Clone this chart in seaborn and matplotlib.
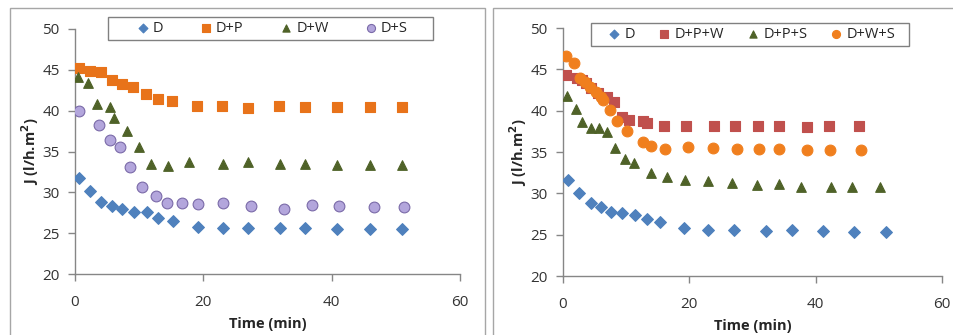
import matplotlib
matplotlib.use("Agg")
import matplotlib.pyplot as plt
from matplotlib.patches import Rectangle
import seaborn as sns
import pandas as pd

sns.set_theme(style="white")
plt.rcParams['font.family'] = ['Open Sans', 'DejaVu Sans']

# ---------------- Left panel data ----------------
L_D_t = [0.7, 2.4, 4.0, 5.8, 7.4, 9.2, 11.2, 13.0, 15.2, 19.1, 23.0, 26.9, 31.9, 35.9, 40.9, 46.0, 50.9]
L_D_j = [31.7, 30.2, 28.8, 28.3, 27.9, 27.6, 27.6, 26.9, 26.5, 25.8, 25.6, 25.6, 25.6, 25.6, 25.5, 25.5, 25.5]

L_DP_t = [0.6, 2.3, 4.0, 5.8, 7.3, 9.1, 11.1, 13.0, 15.1, 19.0, 22.9, 26.9, 31.8, 35.8, 40.9, 45.9, 51.0]
L_DP_j = [45.2, 44.9, 44.7, 43.7, 43.3, 42.9, 42.0, 41.4, 41.2, 40.6, 40.6, 40.3, 40.6, 40.5, 40.5, 40.5, 40.4]

L_DW_t = [0.5, 2.0, 3.4, 5.4, 6.1, 8.1, 10.0, 11.8, 14.5, 17.8, 23.0, 27.0, 31.9, 35.9, 40.9, 45.9, 51.0]
L_DW_j = [44.1, 43.4, 40.8, 40.5, 39.1, 37.5, 35.5, 33.5, 33.2, 33.7, 33.5, 33.7, 33.5, 33.5, 33.3, 33.3, 33.3]

L_DS_t = [0.6, 3.8, 5.5, 7.0, 8.6, 10.5, 12.6, 14.4, 16.7, 19.1, 23.0, 27.5, 32.6, 37.0, 41.2, 46.6, 51.2]
L_DS_j = [40.0, 38.2, 36.4, 35.5, 33.1, 30.7, 29.6, 28.7, 28.7, 28.6, 28.7, 28.3, 28.0, 28.4, 28.3, 28.2, 28.2]

# ---------------- Right panel data ----------------
R_D_t = [0.8, 2.5, 4.4, 6.0, 7.6, 9.4, 11.4, 13.3, 15.3, 19.2, 23.0, 27.1, 32.1, 36.2, 41.1, 46.1, 51.1]
R_D_j = [31.6, 30.1, 28.8, 28.3, 27.8, 27.6, 27.4, 26.9, 26.5, 25.8, 25.6, 25.6, 25.5, 25.6, 25.5, 25.3, 25.3]

R_DPW_t = [0.5, 2.2, 3.0, 3.7, 4.5, 5.6, 6.9, 8.1, 9.3, 10.5, 12.7, 13.3, 16.0, 19.5, 23.9, 27.2, 30.8, 34.2, 38.6, 42.1, 46.9]
R_DPW_j = [44.3, 44.0, 43.7, 43.3, 42.8, 42.1, 41.6, 41.1, 39.2, 38.9, 38.75, 38.5, 38.15, 38.2, 38.2, 38.2, 38.1, 38.2, 38.0, 38.2, 38.1]

R_DPS_t = [0.7, 2.0, 3.0, 4.4, 5.7, 6.9, 8.3, 9.8, 11.2, 14.0, 16.5, 19.3, 23.0, 26.8, 30.7, 34.2, 37.7, 42.4, 45.8, 50.2]
R_DPS_j = [41.8, 40.2, 38.6, 37.9, 37.9, 37.4, 35.5, 34.1, 33.7, 32.5, 32.0, 31.6, 31.5, 31.3, 31.0, 31.1, 30.8, 30.8, 30.8, 30.8]

R_DWS_t = [0.5, 1.8, 2.7, 3.5, 4.3, 5.2, 6.0, 6.3, 7.4, 8.5, 10.2, 12.7, 13.9, 16.2, 19.8, 23.8, 27.6, 31.1, 34.2, 38.6, 42.2, 47.2]
R_DWS_j = [46.6, 45.8, 43.9, 43.5, 42.9, 42.3, 41.7, 41.3, 40.1, 38.7, 37.6, 36.2, 35.7, 35.4, 35.6, 35.5, 35.4, 35.4, 35.4, 35.3, 35.3, 35.2]

x_ticks = [0, 20, 40, 60]
y_ticks = [20, 25, 30, 35, 40, 45, 50]

W, H = 954, 335
fig = plt.figure(figsize=(9.54, 3.35), dpi=100)


def fig_rect(x0, y0, x1, y1, **kw):
    return Rectangle((x0 / W, 1 - y1 / H), (x1 - x0) / W, (y1 - y0) / H,
                     transform=fig.transFigure, fill=False, **kw)


# panel frames
fig.patches.append(fig_rect(10, 8, 485, 336, edgecolor='#A6A6A6', lw=1.0))
fig.patches.append(fig_rect(493, 8, 960, 336, edgecolor='#A6A6A6', lw=1.0))

axL = fig.add_axes([75 / W, 1 - 274 / H, (460 - 75) / W, (274 - 29) / H])
axR = fig.add_axes([563 / W, 1 - 276 / H, (942 - 563) / W, (276 - 28) / H])


def draw(ax, series):
    for t, j, label, marker, fc, ec, s in series:
        df = pd.DataFrame({'t': t, 'j': j})
        sns.scatterplot(data=df, x='t', y='j', ax=ax, marker=marker, color=fc,
                        edgecolor=ec, linewidth=0.8, s=s, label=label, zorder=3)


draw(axL, [
    (L_D_t, L_D_j, 'D', 'D', '#4F81BD', '#4F81BD', 36),
    (L_DP_t, L_DP_j, 'D+P', 's', '#E8731A', '#E8731A', 48),
    (L_DW_t, L_DW_j, 'D+W', '^', '#4F6228', '#4F6228', 48),
    (L_DS_t, L_DS_j, 'D+S', 'o', '#B3A6DC', '#7A6AA8', 60),
])
draw(axR, [
    (R_D_t, R_D_j, 'D', 'D', '#4F81BD', '#4F81BD', 36),
    (R_DPW_t, R_DPW_j, 'D+P+W', 's', '#C0504D', '#C0504D', 48),
    (R_DPS_t, R_DPS_j, 'D+P+S', '^', '#4F6228', '#4F6228', 48),
    (R_DWS_t, R_DWS_j, 'D+W+S', 'o', '#F07F1E', '#F07F1E', 60),
])

for ax, leg_box, cspace in [(axL, (108, 17, 433, 40), 2.5), (axR, (591, 23, 909, 46), 1.6)]:
    ax.set_xlim(0, 60)
    ax.set_ylim(20, 50)
    ax.set_xticks(x_ticks)
    ax.set_yticks(y_ticks)
    ax.tick_params(axis='both', direction='out', length=5, width=1, color='#868686',
                   labelsize=11, labelcolor='#333333', pad=6, left=True, bottom=True)
    ax.tick_params(axis='x', pad=10)
    for sp in ['top', 'right']:
        ax.spines[sp].set_visible(False)
    for sp in ['left', 'bottom']:
        ax.spines[sp].set_color('#868686')
        ax.spines[sp].set_linewidth(1.0)
    ax.set_xlabel('Time (min)', fontsize=10.5, fontweight='bold', labelpad=5)
    ax.set_ylabel('J (l/h.m$^{\\mathbf{2}}$)', fontsize=10.5, fontweight='bold', labelpad=1)
    x0, y0, x1, y1 = leg_box
    fig.patches.append(fig_rect(x0, y0, x1, y1, edgecolor='#808080', lw=1.0, zorder=5))
    leg = ax.legend(ncol=4, loc='center',
                    bbox_to_anchor=(((x0 + x1) / 2 + 2) / W, 1 - ((y0 + y1) / 2) / H),
                    bbox_transform=fig.transFigure, frameon=False, fontsize=10.5,
                    handletextpad=0.3, columnspacing=cspace, borderpad=0.0,
                    markerscale=0.75, handlelength=0.8)

fig.savefig('out.png', dpi=100)
